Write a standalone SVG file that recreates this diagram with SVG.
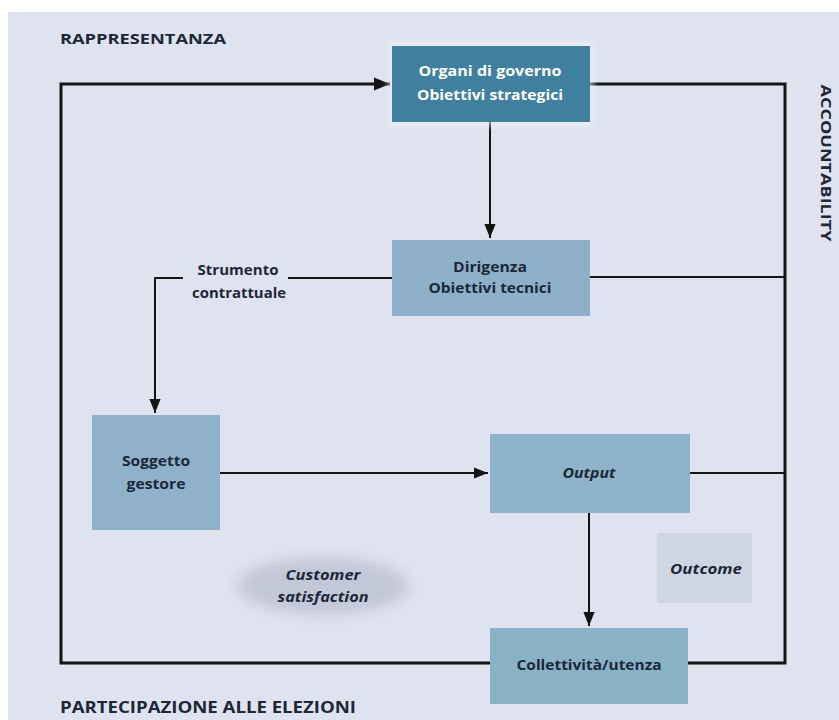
<svg xmlns="http://www.w3.org/2000/svg" width="839" height="720" viewBox="0 0 839 720">
  <defs>
    <style>
      .lbl { font-family: "Open Sans", "Noto Sans", "DejaVu Sans", sans-serif; font-weight: 700; }
      .box { font-size: 14.5px; }
      .dark { fill: #1c2838; }
      .light { fill: #ffffff; }
      .it { font-style: italic; }
      .wire { fill: none; stroke: #141414; stroke-width: 2; }
      .loop { fill: none; stroke: #141414; stroke-width: 3; }
    </style>
    <marker id="arrow" viewBox="0 0 10 10" refX="10" refY="5" markerWidth="5.5" markerHeight="5.5" orient="auto" markerUnits="strokeWidth">
      <path d="M0,1 L10,5 L0,9 Z" fill="#141414"/>
    </marker>
    <marker id="arrowS" viewBox="0 0 10 10" refX="10" refY="5" markerWidth="7" markerHeight="7" orient="auto" markerUnits="strokeWidth">
      <path d="M0,1 L10,5 L0,9 Z" fill="#141414"/>
    </marker>
    <filter id="soft" x="-30%" y="-40%" width="160%" height="180%">
      <feGaussianBlur stdDeviation="7"/>
    </filter>
    <filter id="halo" x="-10%" y="-15%" width="120%" height="130%">
      <feGaussianBlur stdDeviation="3"/>
    </filter>
  </defs>

  <!-- page and panel -->
  <rect x="0" y="0" width="839" height="720" fill="#ffffff"/>
  <rect x="8" y="12" width="831" height="708" fill="#dfe3ef"/>

  <!-- side captions -->
  <text class="lbl dark" x="60" y="44" font-size="15" textLength="166" lengthAdjust="spacingAndGlyphs">RAPPRESENTANZA</text>
  <text class="lbl dark" x="60" y="713" font-size="16" textLength="296" lengthAdjust="spacingAndGlyphs">PARTECIPAZIONE ALLE ELEZIONI</text>
  <text class="lbl dark" x="0" y="0" font-size="14" text-anchor="middle" transform="translate(821,163) rotate(90)" textLength="157" lengthAdjust="spacingAndGlyphs">ACCOUNTABILITY</text>

  <!-- connectors -->
  <g id="connectors">
    <!-- outer accountability loop -->
    <path class="loop" d="M590,84 H785 V663 H688"/>
    <path class="loop" d="M490,663 H61 V84 H390" marker-end="url(#arrow)"/>
    <!-- internal links -->
    <path class="wire" d="M490,122 V238" marker-end="url(#arrowS)"/>
    <path class="wire" d="M590,277 H785"/>
    <path class="wire" d="M392,278 H288"/>
    <path class="wire" d="M183,278 H155 V413" marker-end="url(#arrowS)"/>
    <path class="wire" d="M220,473 H488" marker-end="url(#arrowS)"/>
    <path class="wire" d="M690,473 H785"/>
    <path class="wire" d="M589,513 V626" marker-end="url(#arrowS)"/>
  </g>

  <!-- contract label -->
  <g id="strumento">
    <text class="lbl dark box" x="238" y="275" text-anchor="middle" textLength="81" lengthAdjust="spacingAndGlyphs">Strumento</text>
    <text class="lbl dark box" x="239" y="298" text-anchor="middle" textLength="94" lengthAdjust="spacingAndGlyphs">contrattuale</text>
  </g>

  <!-- nodes -->
  <g id="organi">
    <rect x="388" y="42" width="206" height="84" fill="#eef1f8" opacity="0.6" filter="url(#halo)"/>
    <rect x="392" y="46" width="198" height="76" fill="#3f7fa0"/>
    <text class="lbl light box" x="490" y="76" text-anchor="middle" textLength="143" lengthAdjust="spacingAndGlyphs">Organi di governo</text>
    <text class="lbl light box" x="490" y="100" text-anchor="middle" textLength="146" lengthAdjust="spacingAndGlyphs">Obiettivi strategici</text>
  </g>

  <g id="dirigenza">
    <rect x="392" y="240" width="198" height="76" fill="#8eb0c9"/>
    <text class="lbl dark box" x="490" y="272" text-anchor="middle" textLength="74" lengthAdjust="spacingAndGlyphs">Dirigenza</text>
    <text class="lbl dark box" x="490" y="293" text-anchor="middle" textLength="123" lengthAdjust="spacingAndGlyphs">Obiettivi tecnici</text>
  </g>

  <g id="soggetto">
    <rect x="92" y="415" width="128" height="115" fill="#8fb1ca"/>
    <text class="lbl dark box" x="156" y="466" text-anchor="middle" textLength="68" lengthAdjust="spacingAndGlyphs">Soggetto</text>
    <text class="lbl dark box" x="156" y="489" text-anchor="middle" textLength="59" lengthAdjust="spacingAndGlyphs">gestore</text>
  </g>

  <g id="output">
    <rect x="490" y="434" width="200" height="79" fill="#8fb3ca"/>
    <text class="lbl dark it box" x="589" y="478" text-anchor="middle" textLength="53" lengthAdjust="spacingAndGlyphs">Output</text>
  </g>

  <g id="customer">
    <ellipse cx="323" cy="586" rx="86" ry="29" fill="#c3c8d9" filter="url(#soft)"/>
    <text class="lbl dark it box" x="323" y="580" text-anchor="middle" textLength="75" lengthAdjust="spacingAndGlyphs">Customer</text>
    <text class="lbl dark it box" x="323" y="602" text-anchor="middle" textLength="91" lengthAdjust="spacingAndGlyphs">satisfaction</text>
  </g>

  <g id="outcome">
    <rect x="657" y="533" width="95" height="70" fill="#ced5e3"/>
    <text class="lbl dark it box" x="706" y="574" text-anchor="middle" textLength="72" lengthAdjust="spacingAndGlyphs">Outcome</text>
  </g>

  <g id="collettivita">
    <rect x="490" y="628" width="198" height="76" fill="#8ab2c6"/>
    <text class="lbl dark box" x="589" y="670" text-anchor="middle" textLength="145" lengthAdjust="spacingAndGlyphs">Collettività/utenza</text>
  </g>
</svg>
